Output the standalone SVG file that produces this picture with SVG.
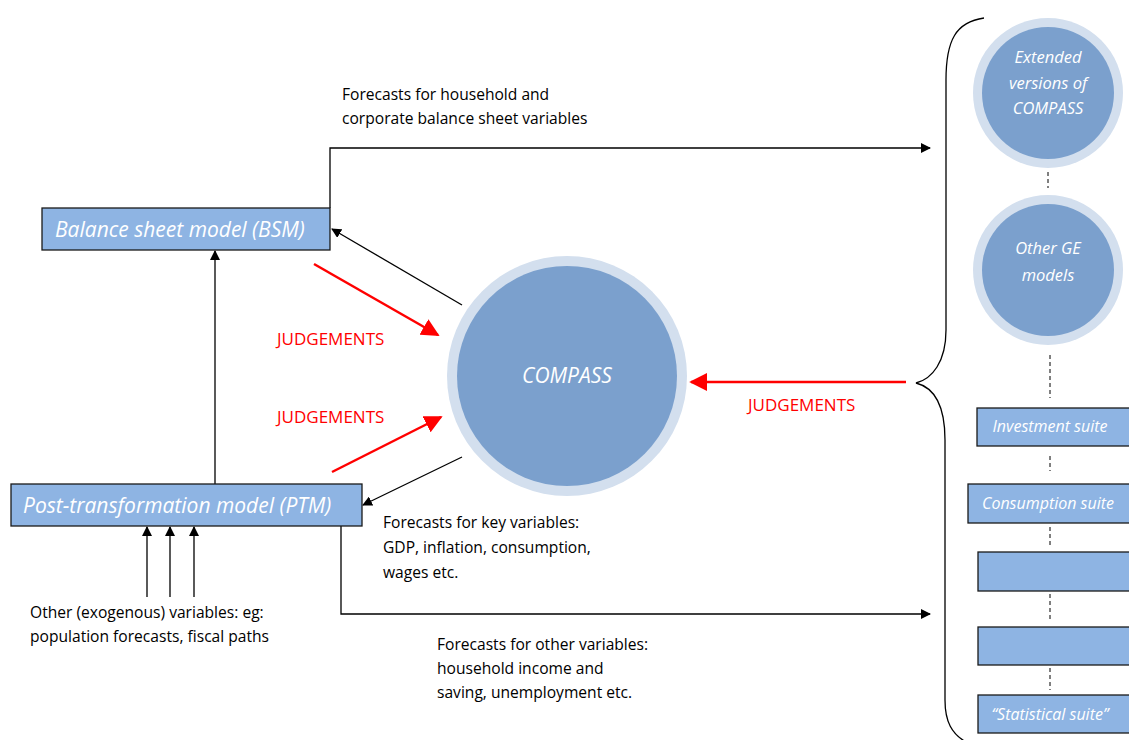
<svg xmlns="http://www.w3.org/2000/svg" width="1129" height="740" viewBox="0 0 1129 740">
<defs>
<marker id="ab" viewBox="0 0 10 10" refX="9" refY="5" markerWidth="10" markerHeight="10" markerUnits="userSpaceOnUse" orient="auto"><path d="M0,0 L10,5 L0,10 z" fill="#000"/></marker>
<marker id="ar" viewBox="0 0 10 10" refX="9" refY="5" markerWidth="18" markerHeight="18" markerUnits="userSpaceOnUse" orient="auto"><path d="M0,0 L10,5 L0,10 z" fill="#FF0000"/></marker>
<style>
.box{fill:#8EB4E3;stroke:#1a1a1a;stroke-width:1.3}
.ring{fill:#D3DFEE}
.core{fill:#7BA0CD}
.wl{fill:#fff;font-family:"Open Sans","Liberation Sans",sans-serif;font-style:italic}
.t{fill:#000;font-family:"Open Sans","Liberation Sans",sans-serif;font-size:15.6px}
.j{fill:#FF0000;font-family:"Open Sans","Liberation Sans",sans-serif;font-size:17px}
.cb{stroke:#000;stroke-width:1.3;fill:none}
.cr{stroke:#FF0000;stroke-width:2.5;fill:none}
.dash{stroke:#000;stroke-width:1;stroke-dasharray:4,3;fill:none}
</style>
</defs>
<rect width="1129" height="740" fill="#fff"/>

<g id="connectors">
<path class="cb" d="M330,208 L330,148 L930,148" marker-end="url(#ab)"/>
<path class="cb" d="M462,305 L332,229" marker-end="url(#ab)"/>
<path class="cb" d="M462,457 L363,505" marker-end="url(#ab)"/>
<path class="cb" d="M215,484 L215,251" marker-end="url(#ab)"/>
<path class="cb" d="M147,597 L147,527" marker-end="url(#ab)"/>
<path class="cb" d="M170,597 L170,527" marker-end="url(#ab)"/>
<path class="cb" d="M194,597 L194,527" marker-end="url(#ab)"/>
<path class="cb" d="M341,526 L341,614 L930,614" marker-end="url(#ab)"/>
<path class="cr" d="M314,264 L438,335" marker-end="url(#ar)"/>
<path class="cr" d="M332,472 L441,417" marker-end="url(#ar)"/>
<path class="cr" d="M906,382 L691,382" marker-end="url(#ar)"/>
<path class="cb" d="M984,18 C956,22 946,40 946,80 L946,330 C946,362 932,379 916,383 C932,387 945,402 945,440 L945,700 C945,722 952,734 966,742"/>
<path class="dash" d="M1048,172 L1048,188"/>
<path class="dash" d="M1050,355 L1050,398"/>
<path class="dash" d="M1050,456 L1050,471"/>
<path class="dash" d="M1050,527 L1050,548"/>
<path class="dash" d="M1050,594 L1050,622"/>
<path class="dash" d="M1050,668 L1050,690"/>
</g>

<g id="bsm">
<rect class="box" x="42" y="208" width="288" height="42"/>
<text class="wl" x="55" y="237" font-size="21">Balance sheet model (BSM)</text>
</g>
<g id="ptm">
<rect class="box" x="11" y="484" width="351" height="42"/>
<text class="wl" x="23" y="513" font-size="21">Post-transformation model (PTM)</text>
</g>
<g id="compass">
<circle class="ring" cx="567" cy="376" r="120"/>
<circle class="core" cx="567" cy="376" r="110"/>
<text class="wl" x="567" y="383" font-size="21" text-anchor="middle">COMPASS</text>
</g>
<g id="extended">
<circle class="ring" cx="1048" cy="93" r="75"/>
<circle class="core" cx="1048" cy="93" r="66"/>
<text class="wl" x="1048" y="63" font-size="16.5" text-anchor="middle">Extended</text>
<text class="wl" x="1048" y="89" font-size="16.5" text-anchor="middle">versions of</text>
<text class="wl" x="1048" y="114" font-size="16.5" text-anchor="middle">COMPASS</text>
</g>
<g id="otherge">
<circle class="ring" cx="1048" cy="270" r="75"/>
<circle class="core" cx="1048" cy="270" r="66"/>
<text class="wl" x="1048" y="254" font-size="16.5" text-anchor="middle">Other GE</text>
<text class="wl" x="1048" y="281" font-size="16.5" text-anchor="middle">models</text>
</g>
<g id="investment">
<rect class="box" x="977" y="408" width="155" height="38"/>
<text class="wl" x="1050" y="432" font-size="16" text-anchor="middle">Investment suite</text>
</g>
<g id="consumption">
<rect class="box" x="968" y="484" width="164" height="39"/>
<text class="wl" x="1048" y="509" font-size="16" text-anchor="middle">Consumption suite</text>
</g>
<g id="blank1">
<rect class="box" x="978" y="552" width="154" height="39"/>
</g>
<g id="blank2">
<rect class="box" x="978" y="627" width="154" height="38"/>
</g>
<g id="statistical">
<rect class="box" x="978" y="695" width="154" height="38"/>
<text class="wl" x="1050" y="720" font-size="16" text-anchor="middle">“Statistical suite”</text>
</g>

<g id="labels">
<text class="t" x="342" y="100">Forecasts for household and</text>
<text class="t" x="342" y="124">corporate balance sheet variables</text>
<text class="j" x="277" y="345">JUDGEMENTS</text>
<text class="j" x="277" y="423">JUDGEMENTS</text>
<text class="j" x="748" y="411">JUDGEMENTS</text>
<text class="t" x="383" y="528">Forecasts for key variables:</text>
<text class="t" x="383" y="553">GDP, inflation, consumption,</text>
<text class="t" x="383" y="578">wages etc.</text>
<text class="t" x="30" y="618">Other (exogenous) variables: eg:</text>
<text class="t" x="30" y="642">population forecasts, fiscal paths</text>
<text class="t" x="437" y="650">Forecasts for other variables:</text>
<text class="t" x="437" y="674">household income and</text>
<text class="t" x="437" y="698">saving, unemployment etc.</text>
</g>
</svg>
